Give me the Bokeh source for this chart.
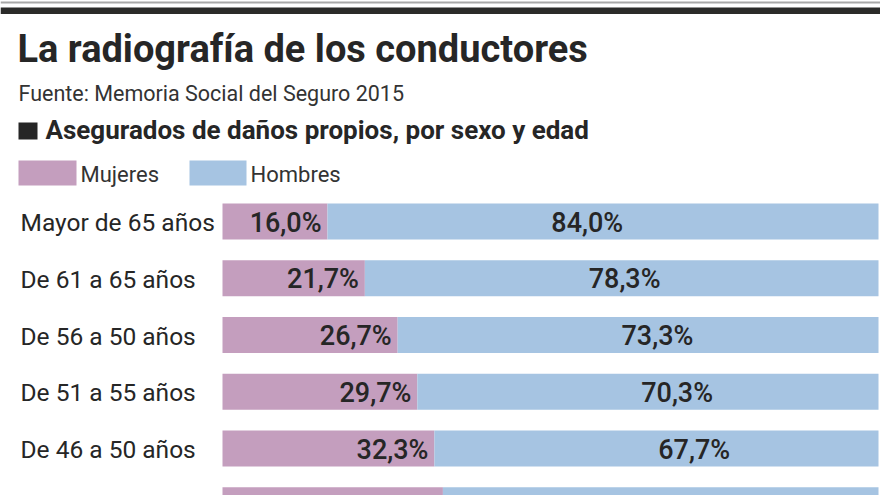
from bokeh.plotting import figure
from bokeh.models import Range1d, Label, BoxAnnotation, ColumnDataSource, CDSView, IndexFilter
from bokeh.core.properties import value
from bokeh.embed import file_html
from bokeh.resources import INLINE

# ---- data ----
categories = ["Mayor de 65 años", "De 61 a 65 años", "De 56 a 50 años",
              "De 51 a 55 años", "De 46 a 50 años", "De 41 a 45 años"]
mujeres = [16.0, 21.7, 26.7, 29.7, 32.3, 33.6]
hombres = [84.0, 78.3, 73.3, 70.3, 67.7, 66.4]
series_names = ["Mujeres", "Hombres"]

title_text = "La radiografía de los conductores"
source_text = "Fuente: Memoria Social del Seguro 2015"
heading_text = "Asegurados de daños propios, por sexo y edad"

PINK = "#c49ebe"
BLUE = "#a6c4e2"
DARK = "#262626"
SANS = "Roboto"

W, H = 880, 495
# page-pixel geometry: bars start at x=222, 6.56 px per percent; rows every 56.75 px from y=221
PX0, PXU = 222.0, 6.56
PY0, PYU = 221.0, 56.75


def X(px):
    return (px - PX0) / PXU


def Y(py):
    return (py - PY0) / PYU


p = figure(width=W, height=H, output_backend="svg", toolbar_location=None,
           x_range=Range1d(X(0), X(W)), y_range=Range1d(Y(H), Y(0)),
           min_border=0, min_border_left=0, min_border_right=0,
           min_border_top=0, min_border_bottom=0)
p.axis.visible = False
p.grid.visible = False
p.outline_line_color = None
p.background_fill_color = "white"
p.border_fill_color = "white"

rows = list(range(len(categories)))
src = ColumnDataSource(dict(
    y=rows, cat=categories, Mujeres=mujeres, Hombres=hombres,
    mlab=[f"{v:.1f}%".replace(".", ",") for v in mujeres],
    hlab=[f"{v:.1f}%".replace(".", ",") for v in hombres],
    hpos=[m + 39.6 for m in mujeres],
))

bars = p.hbar_stack(series_names, y="y", height=36 / PYU, source=src,
                    color=[PINK, BLUE], line_color=None)

# the last row is cut by the lower edge of the picture: only its bar shows
visible_rows = CDSView(filter=IndexFilter(rows[:5]))

# category labels
p.text(x=X(20), y="y", text="cat", source=src, view=visible_rows, text_align="left",
       text_baseline="middle", text_font=value(SANS), text_font_size="24.5px",
       text_color=DARK, y_offset=1)

# value labels
p.text(x="Mujeres", y="y", text="mlab", source=src, view=visible_rows, text_align="right",
       text_baseline="middle", text_font=value("Roboto Medium"), text_font_size="27px",
       text_color=DARK, x_offset=-6, y_offset=1)
p.text(x="hpos", y="y", text="hlab", source=src, view=visible_rows, text_align="center",
       text_baseline="middle", text_font=value("Roboto Medium"), text_font_size="27px",
       text_color=DARK, y_offset=1)

# top rules
p.add_layout(BoxAnnotation(top=Y(1), bottom=Y(3), fill_color="#a8a8a8",
                           fill_alpha=1, line_color=None))
p.add_layout(BoxAnnotation(top=Y(7), bottom=Y(13.5), fill_color="#2b2b29",
                           fill_alpha=1, line_color=None))

# header texts (vertically centred on their cap height)
p.add_layout(Label(x=X(17), y=Y(48.5), text=title_text, text_font=SANS,
                   text_font_style="bold", text_font_size="38px",
                   text_color=DARK, text_baseline="middle"))
p.add_layout(Label(x=X(18), y=Y(92.5), text=source_text, text_font=SANS,
                   text_font_size="21.5px", text_color="#333333",
                   text_baseline="middle"))
p.add_layout(BoxAnnotation(left=X(18), right=X(37), top=Y(122), bottom=Y(139),
                           fill_color=DARK, fill_alpha=1, line_color=None))
p.add_layout(Label(x=X(45), y=Y(129), text=heading_text, text_font=SANS,
                   text_font_style="bold", text_font_size="26px",
                   text_color=DARK, text_baseline="middle"))

# legend (swatches + labels)
leg_src = ColumnDataSource(dict(
    x0=[X(18), X(189)], x1=[X(76), X(246)],
    lx=[X(80), X(250)], name=series_names, color=[PINK, BLUE],
))
p.quad(left="x0", right="x1", top=Y(160), bottom=Y(185), source=leg_src,
       fill_color="color", line_color=None)
p.text(x="lx", y=Y(172.5), text="name", source=leg_src, text_align="left",
       text_baseline="middle", text_font=value(SANS), text_font_size="22px",
       text_color="#333333", y_offset=1)

open("out.html", "w").write(file_html(p, INLINE))
